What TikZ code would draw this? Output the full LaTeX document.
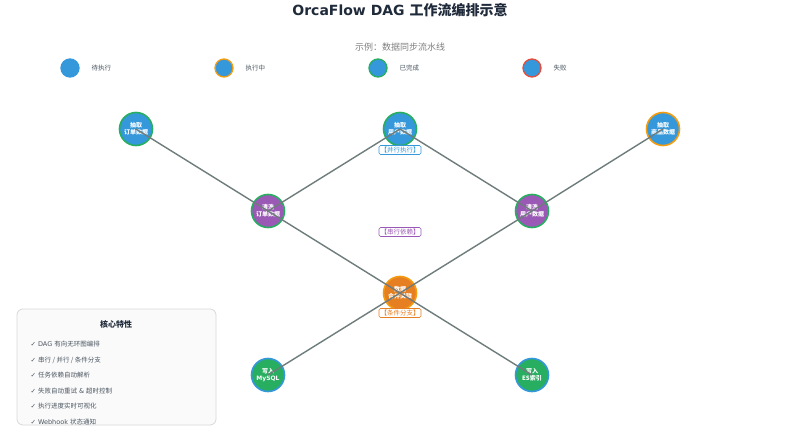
\documentclass[tikz,border=0pt]{standalone}
\usepackage{fontspec}
\setmainfont{DejaVu Sans}
\newfontfamily\cjk{Noto Sans CJK SC}
\definecolor{cblue}{HTML}{3498DB}
\definecolor{cpurple}{HTML}{9B59B6}
\definecolor{corange}{HTML}{E67E22}
\definecolor{cyellow}{HTML}{F39C12}
\definecolor{cgreen}{HTML}{27AE60}
\definecolor{cred}{HTML}{E74C3C}
\definecolor{cedge}{HTML}{6F7C7C}
\definecolor{cdark}{HTML}{1F2A3A}
\definecolor{ctext}{HTML}{4A5560}
\begin{document}
\begin{tikzpicture}[x=1pt,y=-1pt,
  task/.style={circle,minimum size=33pt,inner sep=0pt,line width=1.6pt,text=white,align=center,font=\cjk\bfseries\fontsize{6}{7}\selectfont},
  leg/.style={circle,minimum size=18pt,inner sep=0pt,line width=1.3pt,fill=cblue},
  legtxt/.style={anchor=west,text=ctext,font=\cjk\fontsize{6.5}{7}\selectfont},
  edge/.style={draw=cedge,line width=1.4pt},
  tag/.style={draw=#1,text=#1,fill=white,rounded corners=1.5pt,line width=0.6pt,inner sep=1.5pt,font=\cjk\fontsize{6.5}{7}\selectfont},
  feat/.style={anchor=west,text=ctext,font=\fontsize{6.5}{7}\selectfont}
]
\useasboundingbox (0,0) rectangle (800,441);
\fill[white] (0,0) rectangle (800,441);
% title
\node[font=\bfseries\fontsize{14}{16}\selectfont,text=cdark] (title) at (400,10) {OrcaFlow DAG {\cjk 工作流编排示意}};
\node[font=\cjk\fontsize{9}{10}\selectfont,text=gray] (sub) at (400,47) {示例：数据同步流水线};
% legend
\node[leg,draw=cblue] (l1) at (70,68) {};
\node[legtxt] (l1t) at (88,68) {待执行};
\node[leg,draw=cyellow] (l2) at (224,68) {};
\node[legtxt] (l2t) at (242,68) {执行中};
\node[leg,draw=cgreen] (l3) at (378,68) {};
\node[legtxt] (l3t) at (396,68) {已完成};
\node[leg,draw=cred] (l4) at (532,68) {};
\node[legtxt] (l4t) at (550,68) {失败};
% tasks
\node[task,fill=cblue,draw=cgreen] (e1) at (136,129) {抽取\\订单数据};
\node[task,fill=cblue,draw=cgreen] (e2) at (400,129) {抽取\\用户数据};
\node[task,fill=cblue,draw=cyellow] (e3) at (663,129) {抽取\\商品数据};
\node[task,fill=cpurple,draw=cgreen] (c1) at (268,211) {清洗\\订单数据};
\node[task,fill=cpurple,draw=cgreen] (c2) at (532,211) {清洗\\用户数据};
\node[task,fill=corange,draw=cyellow] (m) at (400,293) {数据\\合并关联};
\node[task,fill=cgreen,draw=cblue] (w1) at (268,375) {写入\\\rmfamily MySQL};
\node[task,fill=cgreen,draw=cblue] (w2) at (532,375) {写入\\ES索引};
% edges
\draw[edge] (e1.center) -- (c1.center);
\draw[edge] (e2.center) -- (c1.center);
\draw[edge] (e2.center) -- (c2.center);
\draw[edge] (e3.center) -- (c2.center);
\draw[edge] (c1.center) -- (m.center);
\draw[edge] (c2.center) -- (m.center);
\draw[edge] (m.center) -- (w1.center);
\draw[edge] (m.center) -- (w2.center);
% tags
\node[tag=cblue] (t1) at (400,150) {【并行执行】};
\node[tag=cpurple] (t2) at (400,232) {【串行依赖】};
\node[tag=corange] (t3) at (400,313) {【条件分支】};
% features
\draw[draw=black!15,fill=black!2,rounded corners=6pt,line width=0.8pt] (17,309) rectangle (216,425);
\node[font=\cjk\bfseries\fontsize{8}{9}\selectfont,text=cdark] (ft) at (116,324) {核心特性};
\node[feat] (f1) at (27,344) {✓ DAG {\cjk 有向无环图编排}};
\node[feat] (f2) at (27,360) {✓ {\cjk 串行 / 并行 / 条件分支}};
\node[feat] (f3) at (27,375) {✓ {\cjk 任务依赖自动解析}};
\node[feat] (f4) at (27,391) {✓ {\cjk 失败自动重试} \& {\cjk 超时控制}};
\node[feat] (f5) at (27,406) {✓ {\cjk 执行进度实时可视化}};
\node[feat] (f6) at (27,422) {✓ Webhook {\cjk 状态通知}};
\end{tikzpicture}
\end{document}
